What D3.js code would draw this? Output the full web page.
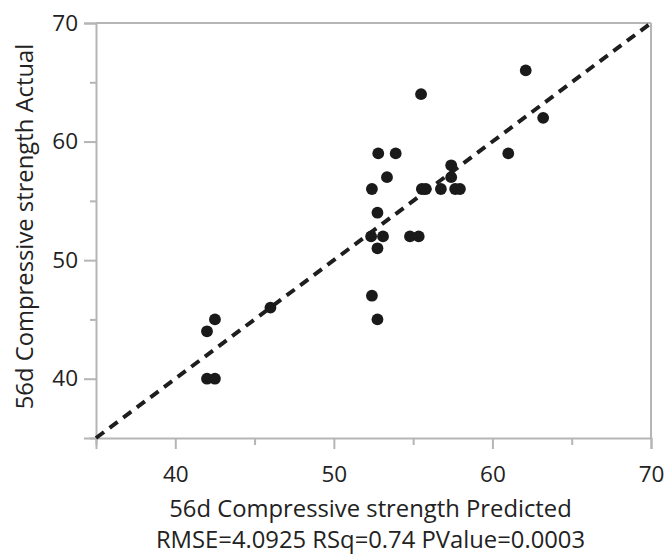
<!DOCTYPE html>
<html>
<head>
<meta charset="utf-8">
<script src="https://cdn.jsdelivr.net/npm/d3@7"></script>
<style>
  html, body { margin: 0; padding: 0; background: #fff; }
  svg { display: block; }
  text { font-family: "Open Sans", "Noto Sans", sans-serif; fill: #222; }
</style>
</head>
<body>
<svg id="chart" width="666" height="554"></svg>
<script>
// Data: predicted vs actual 56d compressive strength
const predicted = [42.0, 42.5, 42.0, 42.5, 46.0, 52.4, 52.75, 52.75, 52.35, 53.1, 54.8, 55.35, 52.75, 52.4, 55.55, 55.8, 56.75, 57.65, 57.95, 53.35, 57.4, 57.4, 52.8, 53.9, 61.0, 63.2, 55.5, 62.1];
const actual    = [40,   40,   44,   45,   46,   47,   45,    51,    52,    52,   52,   52,    54,    56,   56,    56,   56,    56,    56,    57,    57,   58,   59,   59,   59,   62,   64,   66];
const xTicksMajor = [40, 50, 60, 70];
const xTicksMinor = [35, 45, 55, 65];
const yTicksMajor = [40, 50, 60, 70];
const yTicksMinor = [35, 45, 55, 65];
const xDomain = [35, 70];
const yDomain = [35, 70];
const xTitle = "56d Compressive strength Predicted";
const yTitle = "56d Compressive strength Actual";
const statsLine = "RMSE=4.0925 RSq=0.74 PValue=0.0003";

const svg = d3.select("#chart");
const L = 96, R = 651, T = 23, B = 438;
const x = d3.scaleLinear().domain(xDomain).range([L, R]);
const y = d3.scaleLinear().domain(yDomain).range([B, T]);
const axisColor = "#b5b5b5";
const tickFont = 22.5, titleFont = 23.8;

// frame: top and right borders
svg.append("line").attr("x1", L).attr("x2", R).attr("y1", T).attr("y2", T)
  .attr("stroke", axisColor).attr("stroke-width", 2);
svg.append("line").attr("x1", R).attr("x2", R).attr("y1", T).attr("y2", B)
  .attr("stroke", axisColor).attr("stroke-width", 2);

// Y axis (left)
const yAxis = d3.axisLeft(y).tickValues(yTicksMajor).tickSize(12).tickPadding(6).tickFormat(d3.format("d"));
const gy = svg.append("g").attr("transform", `translate(${L},0)`).call(yAxis);
gy.select(".domain").attr("stroke", axisColor).attr("stroke-width", 2);
gy.selectAll(".tick line").attr("stroke", axisColor).attr("stroke-width", 2);
gy.selectAll(".tick text").attr("font-size", tickFont).attr("fill", "#222")
  .style("font-family", '"Open Sans", sans-serif');
const gyMinor = svg.append("g").attr("transform", `translate(${L},0)`)
  .call(d3.axisLeft(y).tickValues(yTicksMinor).tickSize(6).tickFormat(""));
gyMinor.select(".domain").remove();
gyMinor.selectAll(".tick line").attr("stroke", axisColor).attr("stroke-width", 2);

// X axis (bottom)
const xAxis = d3.axisBottom(x).tickValues(xTicksMajor).tickSize(11).tickPadding(17).tickFormat(d3.format("d"));
const gx = svg.append("g").attr("transform", `translate(0,${B})`).call(xAxis);
gx.select(".domain").attr("stroke", axisColor).attr("stroke-width", 2);
gx.selectAll(".tick line").attr("stroke", axisColor).attr("stroke-width", 2);
gx.selectAll(".tick text").attr("font-size", tickFont).attr("fill", "#222")
  .style("font-family", '"Open Sans", sans-serif');
const gxMinor = svg.append("g").attr("transform", `translate(0,${B})`)
  .call(d3.axisBottom(x).tickValues(xTicksMinor).tickSize(7).tickFormat(""));
gxMinor.select(".domain").remove();
gxMinor.selectAll(".tick line").attr("stroke", axisColor).attr("stroke-width", 2);

// diagonal dashed line y = x
svg.append("line")
  .attr("x1", x(xDomain[0])).attr("y1", y(yDomain[0]))
  .attr("x2", x(xDomain[1])).attr("y2", y(yDomain[1]))
  .attr("stroke", "#1e1e1e").attr("stroke-width", 4)
  .attr("stroke-dasharray", "10,7");

// points
const pts = predicted.map((p, i) => ({p, a: actual[i]}));
svg.append("g").selectAll("circle").data(pts).join("circle")
  .attr("cx", d => x(d.p)).attr("cy", d => y(d.a)).attr("r", 5.9)
  .attr("fill", "#1a1a1a");

// titles
svg.append("text").attr("x", (L + R) / 2 - 3).attr("y", 517).attr("text-anchor", "middle")
  .attr("font-size", titleFont).text(xTitle);
svg.append("text").attr("x", (L + R) / 2 - 3).attr("y", 548).attr("text-anchor", "middle")
  .attr("font-size", titleFont).text(statsLine);
svg.append("text").attr("transform", `translate(33,${(T + B) / 2 - 4}) rotate(-90)`)
  .attr("text-anchor", "middle").attr("font-size", titleFont).text(yTitle);
</script>
</body>
</html>
